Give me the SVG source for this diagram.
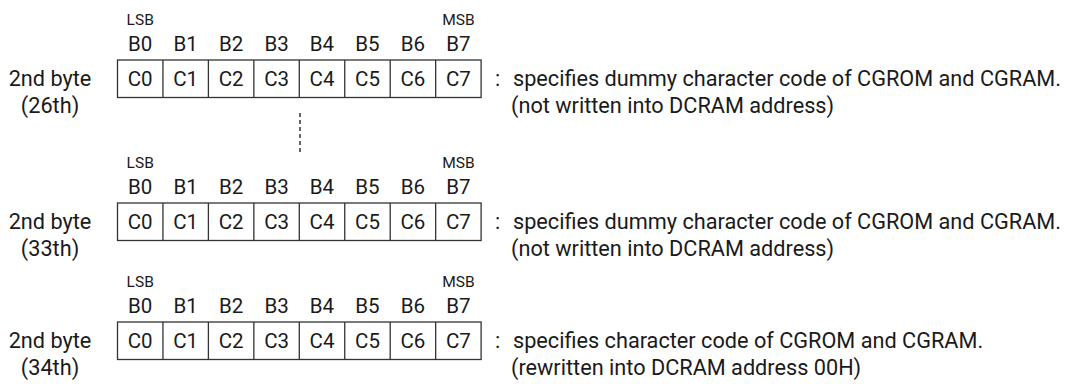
<svg xmlns="http://www.w3.org/2000/svg" width="1073" height="384" viewBox="0 0 1073 384">
<style>
text{font-family:Roboto,"Liberation Sans",sans-serif;fill:#1a1a1a}
.t{font-size:20.5px}
.d{font-size:21.7px}
.s{font-size:15.5px}
.m{text-anchor:middle}
.box{fill:#fff;stroke:#333;stroke-width:1.3}
.div{stroke:#333;stroke-width:1.3}
.dash{stroke:#333;stroke-width:1.5;stroke-dasharray:4 3;fill:none}
</style>
<defs>
<g id="cells">
<rect class="box" x="117.5" y="0" width="363.6" height="37.5"/>
<path class="div" d="M162.95 0V37.5M208.4 0V37.5M253.85 0V37.5M299.3 0V37.5M344.75 0V37.5M390.2 0V37.5M435.65 0V37.5"/>
<g class="t m">
<text x="140.2" y="26">C0</text><text x="185.7" y="26">C1</text><text x="231.1" y="26">C2</text><text x="276.6" y="26">C3</text>
<text x="322" y="26">C4</text><text x="367.5" y="26">C5</text><text x="412.9" y="26">C6</text><text x="458.4" y="26">C7</text>
</g>
<g class="t m">
<text x="140.2" y="-9">B0</text><text x="185.7" y="-9">B1</text><text x="231.1" y="-9">B2</text><text x="276.6" y="-9">B3</text>
<text x="322" y="-9">B4</text><text x="367.5" y="-9">B5</text><text x="412.9" y="-9">B6</text><text x="458.4" y="-9">B7</text>
</g>
<text class="s m" x="140.2" y="-35">LSB</text>
<text class="s m" x="458.4" y="-35">MSB</text>
</g>
</defs>
<g id="row26">
<use href="#cells" x="0" y="60"/>
<text class="d m" x="50" y="86">2nd byte</text>
<text class="d m" x="50" y="113">(26th)</text>
<text class="d" x="495" y="86">:</text>
<text class="d" x="513" y="86">specifies dummy character code of CGROM and CGRAM.</text>
<text class="d" x="511" y="113">(not written into DCRAM address)</text>
</g>
<g id="connectors">
<line class="dash" x1="300" y1="113" x2="300" y2="154"/>
</g>
<g id="row33">
<use href="#cells" x="0" y="203"/>
<text class="d m" x="50" y="229">2nd byte</text>
<text class="d m" x="50" y="256">(33th)</text>
<text class="d" x="495" y="229">:</text>
<text class="d" x="513" y="229">specifies dummy character code of CGROM and CGRAM.</text>
<text class="d" x="511" y="256">(not written into DCRAM address)</text>
</g>
<g id="row34">
<use href="#cells" x="0" y="322"/>
<text class="d m" x="50" y="348">2nd byte</text>
<text class="d m" x="50" y="375">(34th)</text>
<text class="d" x="495" y="348">:</text>
<text class="d" x="513" y="348">specifies character code of CGROM and CGRAM.</text>
<text class="d" x="511" y="375">(rewritten into DCRAM address 00H)</text>
</g>
</svg>
